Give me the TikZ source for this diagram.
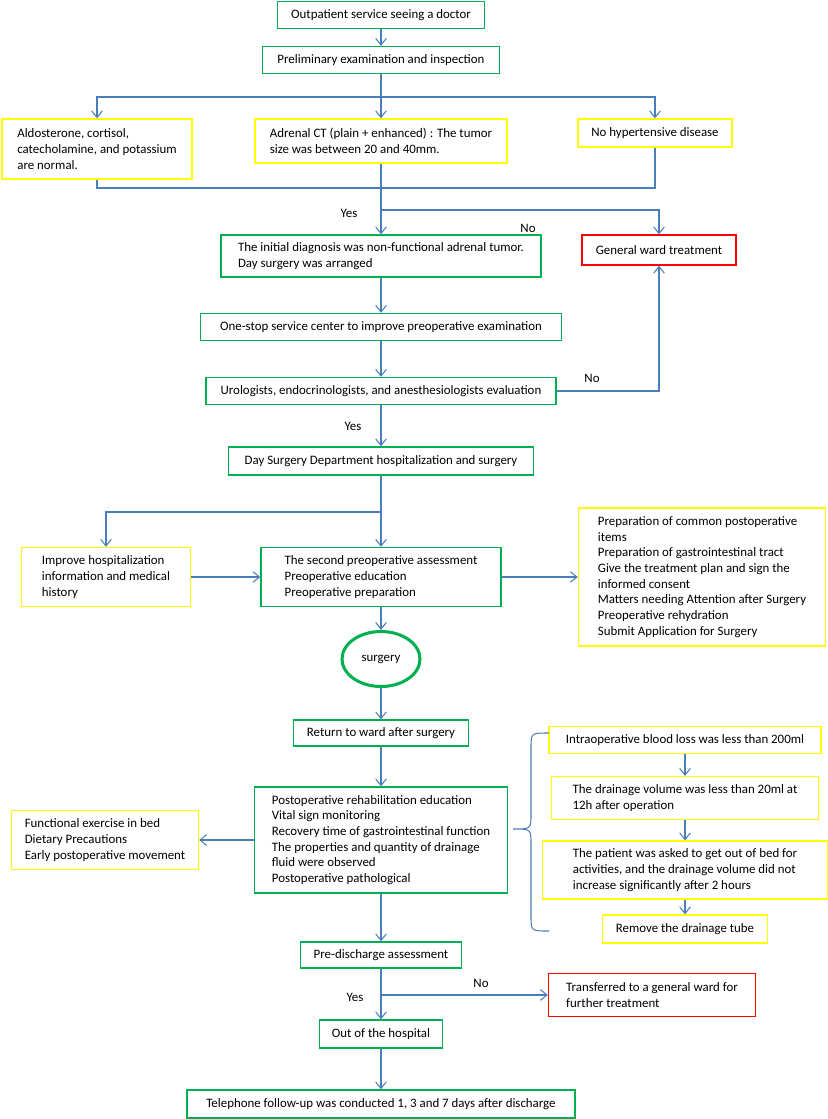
\documentclass[tikz,border=0pt]{standalone}
\usepackage{fontspec}
\setmainfont{Carlito}
\usepackage{xcolor}
\usetikzlibrary{arrows.meta,shapes.geometric}
\definecolor{boxgreen}{RGB}{0,176,80}
\definecolor{boxyellow}{RGB}{255,255,0}
\definecolor{boxred}{RGB}{255,0,0}
\definecolor{lineblue}{RGB}{74,126,187}

\begin{document}
\begin{tikzpicture}[x=0.03cm, y=-0.03cm, font=\fontsize{11}{13.4}\selectfont,
    gbox/.style={draw=boxgreen, line width=1.1pt, inner xsep=0.3cm, inner ysep=0pt},
    ybox/.style={draw=boxyellow, line width=1.1pt, inner xsep=0.3cm, inner ysep=0pt},
    rbox/.style={draw=boxred, line width=1.1pt, inner xsep=0.3cm, inner ysep=0pt},
    lft/.style={align=left, minimum width=#1},
    link/.style={draw=lineblue, line width=0.9pt},
    arr/.style={link, -{Straight Barb[length=2mm,width=3.2mm]}}]
    \useasboundingbox (0,0) rectangle (827,1119);

    % Outpatient
    \node[gbox, minimum width=6.21cm, minimum height=0.81cm] (visit) at (381,15) {Outpatient service seeing a doctor};
    \node[gbox, minimum width=7.11cm, minimum height=0.81cm] (prelim) at (381,60) {Preliminary examination and inspection};
    \node[ybox, lft=5.7cm, minimum height=1.8cm] (hormone) at (97,149) {Aldosterone, cortisol,\\ catecholamine, and potassium\\ are normal.};
    \node[ybox, lft=7.56cm, minimum height=1.32cm] (ct) at (381,141) {Adrenal CT (plain + enhanced) : The tumor\\ size was between 20 and 40mm.};
    \node[ybox, minimum width=4.62cm, minimum height=0.84cm] (nohyp) at (655,133) {No hypertensive disease};

    % Diagnosis
    \node[gbox, lft=9.6cm, minimum height=1.26cm] (diag) at (381,256) {The initial diagnosis was non-functional adrenal tumor.\\ Day surgery was arranged};
    \node[rbox, minimum width=4.62cm, minimum height=0.9cm] (ward) at (659,250) {General ward treatment};
    \node[gbox, minimum width=10.83cm, minimum height=0.81cm] (onestop) at (381,327) {One-stop service center to improve preoperative examination};
    \node[gbox, minimum width=10.5cm, minimum height=0.81cm] (evaluate) at (381,391) {Urologists, endocrinologists, and anesthesiologists evaluation};
    \node[gbox, minimum width=9.15cm, minimum height=0.84cm] (dayward) at (381,461) {Day Surgery Department hospitalization and surgery};

    % Preoperative
    \node[ybox, lft=5.07cm, minimum height=1.77cm] (improve) at (106,577) {Improve hospitalization\\ information and medical\\ history};
    \node[gbox, lft=7.2cm, minimum height=1.77cm] (second) at (381,577) {The second preoperative assessment\\ Preoperative education\\ Preoperative preparation};
    \node[ybox, lft=7.41cm, minimum height=4.14cm] (prepare) at (702,577) {Preparation of common postoperative\\ items\\ Preparation of gastrointestinal tract\\ Give the treatment plan and sign the\\ informed consent\\ Matters needing Attention after Surgery\\ Preoperative rehydration\\ Submit Application for Surgery};
    \node[draw=boxgreen, line width=2.6pt, ellipse, minimum width=2.34cm, minimum height=1.65cm] (surgery) at (381,659) {surgery};

    % Postoperative
    \node[gbox, minimum width=5.25cm, minimum height=0.78cm] (back) at (381,733) {Return to ward after surgery};
    \node[gbox, lft=7.59cm, minimum height=3.18cm] (postop) at (381,840) {Postoperative rehabilitation education\\ Vital sign monitoring\\ Recovery time of gastrointestinal function\\ The properties and quantity of drainage\\ fluid were observed\\ Postoperative pathological};
    \node[ybox, lft=5.61cm, minimum height=1.77cm] (exercise) at (105,840) {Functional exercise in bed\\ Dietary Precautions\\ Early postoperative movement};
    \node[ybox, minimum width=8.16cm, minimum height=0.81cm] (bleed) at (685,740) {Intraoperative blood loss was less than 200ml};
    \node[ybox, lft=8.01cm, minimum height=1.29cm] (drain) at (685,798) {The drainage volume was less than 20ml at\\ 12h after operation};
    \node[ybox, lft=8.55cm, minimum height=1.74cm] (walk) at (685,870) {The patient was asked to get out of bed for\\ activities, and the drainage volume did not\\ increase significantly after 2 hours};
    \node[ybox, minimum width=4.95cm, minimum height=0.84cm] (tube) at (685,929) {Remove the drainage tube};

    % Discharge
    \node[gbox, minimum width=4.83cm, minimum height=0.78cm] (assess) at (381,955) {Pre-discharge assessment};
    \node[rbox, lft=6.21cm, minimum height=1.29cm] (transfer) at (652,995) {Transferred to a general ward for\\ further treatment};
    \node[gbox, minimum width=3.69cm, minimum height=0.84cm] (leave) at (381,1034) {Out of the hospital};
    \node[gbox, minimum width=11.64cm, minimum height=0.84cm] (phone) at (381,1104) {Telephone follow-up was conducted 1, 3 and 7 days after discharge};

    % Branch points
    \coordinate (split1) at (381,97);
    \coordinate (join1) at (381,188);
    \coordinate (yes1) at (381,210);
    \coordinate (split2) at (381,512);
    \coordinate (split3) at (381,995);
    \coordinate (braceT) at (549,733);
    \coordinate (braceB) at (549,931);

    % Connectors
    \draw[arr] (visit) -- (prelim);
    \draw[link] (prelim) -- (split1);
    \draw[arr] (split1) -| (hormone);
    \draw[arr] (split1) -- (ct);
    \draw[arr] (split1) -| (nohyp);
    \draw[link] (hormone) |- (join1);
    \draw[link] (nohyp) |- (join1);
    \draw[arr] (ct) -- (diag);
    \draw[arr] (yes1) -| (ward);
    \draw[arr] (diag) -- (onestop);
    \draw[arr] (onestop) -- (evaluate);
    \draw[arr] (evaluate) -| (ward);
    \draw[arr] (evaluate) -- (dayward);
    \draw[arr] (dayward) -- (second);
    \draw[arr] (split2) -| (improve);
    \draw[arr] (improve) -- (second);
    \draw[arr] (second) -- (prepare);
    \draw[arr] (second) -- (surgery);
    \draw[arr] (surgery) -- (back);
    \draw[arr] (back) -- (postop);
    \draw[arr] (postop) -- (exercise);
    \draw[arr] (bleed) -- (drain);
    \draw[arr] (drain) -- (walk);
    \draw[arr] (walk) -- (tube);
    \draw[arr] (postop) -- (assess);
    \draw[arr] (split3) -- (transfer);
    \draw[arr] (assess) -- (leave);
    \draw[arr] (leave) -- (phone);

    % Brace
    \draw[link] (braceT) .. controls (531,733) .. (531,748) -- (531,814)
        .. controls (531,829) .. (513,829) .. controls (531,829) .. (531,844)
        -- (531,916) .. controls (531,931) .. (braceB);

    % Labels
    \node (yesA) at (349,213) {Yes};
    \node (noA) at (528,228) {No};
    \node (noB) at (592,378) {No};
    \node (yesB) at (353,426) {Yes};
    \node (noC) at (481,983) {No};
    \node (yesC) at (355,997) {Yes};
\end{tikzpicture}
\end{document}
